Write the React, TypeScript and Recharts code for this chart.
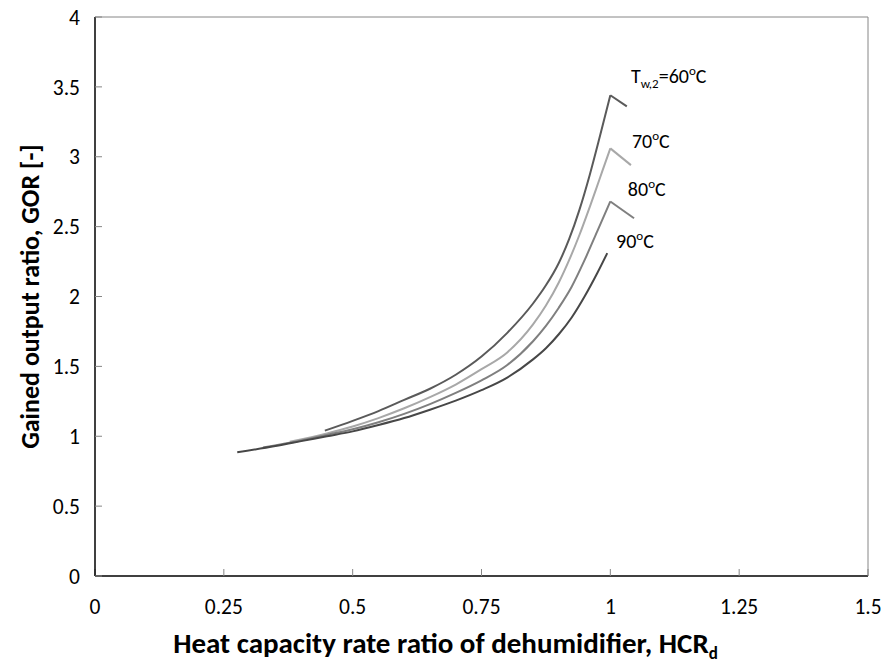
import React from 'react';
import { LineChart, Line, XAxis, YAxis, ReferenceLine, ReferenceDot, Label } from 'recharts';

// HCR_d (x) and GOR (y) per water temperature curve
const hcr60 = [0.446, 0.5, 0.55, 0.6, 0.65, 0.7, 0.75, 0.8, 0.85, 0.875, 0.9, 0.92, 0.94, 0.96, 0.98, 1.0, 1.032];
const gor60 = [1.04, 1.11, 1.18, 1.26, 1.34, 1.44, 1.57, 1.74, 1.95, 2.08, 2.24, 2.41, 2.62, 2.87, 3.15, 3.44, 3.36];

const hcr70 = [0.378, 0.45, 0.5, 0.55, 0.6, 0.65, 0.7, 0.75, 0.8, 0.85, 0.875, 0.9, 0.92, 0.94, 0.96, 0.98, 1.0, 1.04];
const gor70 = [0.96, 1.02, 1.07, 1.13, 1.2, 1.28, 1.37, 1.48, 1.6, 1.8, 1.935, 2.1, 2.26, 2.44, 2.64, 2.85, 3.06, 2.94];

const hcr80 = [0.326, 0.4, 0.45, 0.5, 0.55, 0.6, 0.65, 0.7, 0.75, 0.8, 0.85, 0.875, 0.9, 0.925, 0.95, 0.975, 1.0, 1.046];
const gor80 = [0.92, 0.97, 1.01, 1.05, 1.1, 1.16, 1.23, 1.31, 1.4, 1.51, 1.68, 1.79, 1.92, 2.07, 2.26, 2.47, 2.68, 2.56];

const hcr90 = [0.276, 0.35, 0.4, 0.45, 0.5, 0.55, 0.6, 0.65, 0.7, 0.75, 0.8, 0.85, 0.875, 0.9, 0.925, 0.95, 0.975, 0.994];
const gor90 = [0.885, 0.93, 0.965, 1.0, 1.035, 1.08, 1.13, 1.19, 1.255, 1.33, 1.42, 1.55, 1.63, 1.73, 1.85, 2.0, 2.17, 2.31];

const temps = ['60', '70', '80', '90'];
const colors = ['#5a5a5a', '#a8a8a8', '#7f7f7f', '#474747'];
// where each temperature label starts (data coords)
const labelX = [1.04, 1.042, 1.034, 1.011];
const labelY = [3.53, 3.065, 2.72, 2.345];

const xTicks = [0, 0.25, 0.5, 0.75, 1, 1.25, 1.5];
const yTicks = [0, 0.5, 1, 1.5, 2, 2.5, 3, 3.5, 4];

const FONT = 'Carlito, Calibri, Lato, sans-serif';

const toPoints = (xs: number[], ys: number[]) => xs.map((x, i) => ({ x, y: ys[i] }));
const series = [
  toPoints(hcr60, gor60),
  toPoints(hcr70, gor70),
  toPoints(hcr80, gor80),
  toPoints(hcr90, gor90),
];

// split at the peak so the rising part can be smooth and the peak stays sharp
const splitAtPeak = (pts: { x: number; y: number }[]) => {
  let k = 0;
  pts.forEach((p, i) => { if (p.y > pts[k].y) k = i; });
  return { rise: pts.slice(0, k + 1), tail: pts.slice(k) };
};
const parts = series.map(splitAtPeak);

function TempLabel(props: any) {
  const { viewBox, idx } = props;
  const x = viewBox.x + viewBox.width / 2;
  const y = viewBox.y + viewBox.height / 2;
  const head =
    idx === 0
      ? [
          <tspan key="t">T</tspan>,
          <tspan key="s" fontSize={13} dy={5}>w,2</tspan>,
          <tspan key="e" dy={-5}>=</tspan>,
        ]
      : [];
  return (
    <text x={x} y={y} textAnchor="start" fontFamily={FONT} fontSize={20} fill="#000">
      {head}
      <tspan>{temps[idx]}</tspan>
      <tspan fontSize={13} dy={-8}>o</tspan>
      <tspan dy={8}>C</tspan>
    </text>
  );
}

function XTitle(props: any) {
  const { viewBox } = props;
  const cx = viewBox.x + viewBox.width / 2 - 36;
  return (
    <text x={cx} y={653} textAnchor="middle" fontFamily={FONT} fontSize={29} fontWeight="bold" fill="#000">
      <tspan>Heat capacity rate ratio of dehumidifier, HCR</tspan>
      <tspan fontSize={17} dy={6}>d</tspan>
    </text>
  );
}

function YTitle(props: any) {
  const { viewBox } = props;
  const cy = viewBox.y + viewBox.height / 2;
  return (
    <text
      x={30}
      y={cy}
      textAnchor="middle"
      dominantBaseline="central"
      transform={`rotate(-90, 30, ${cy})`}
      fontFamily={FONT}
      fontSize={26}
      fontWeight="bold"
      fill="#000"
    >
      Gained output ratio, GOR [-]
    </text>
  );
}

export default function App() {
  return (
    <div style={{ position: 'absolute', left: 0, top: 0, width: 884, height: 664, background: '#fff' }}>
      <LineChart width={884} height={664} margin={{ top: 17, right: 16, bottom: 0, left: 0 }}>
        <XAxis
          type="number"
          dataKey="x"
          domain={[0, 1.5]}
          ticks={xTicks}
          height={88}
          axisLine={{ stroke: '#000', strokeWidth: 1.5 }}
          tickLine={{ stroke: '#868686' }}
          tickSize={-7}
          tickMargin={30}
          tick={{ fill: '#000', fontSize: 21.5, fontFamily: FONT }}
        >
          <Label content={<XTitle />} />
        </XAxis>
        <YAxis
          type="number"
          dataKey="y"
          domain={[0, 4]}
          ticks={yTicks}
          width={95}
          axisLine={{ stroke: '#000', strokeWidth: 1.5 }}
          tickLine={{ stroke: '#868686' }}
          tickSize={-7}
          tickMargin={22}
          tick={{ fill: '#000', fontSize: 21.5, fontFamily: FONT }}
        >
          <Label content={<YTitle />} />
        </YAxis>
        <ReferenceLine y={4} stroke="#868686" />
        <ReferenceLine x={1.5} stroke="#868686" />
        {parts.map((p, i) => (
          <Line
            key={'rise' + temps[i]}
            data={p.rise}
            dataKey="y"
            type="monotone"
            stroke={colors[i]}
            strokeWidth={2}
            dot={false}
            isAnimationActive={false}
          />
        ))}
        {parts.map((p, i) =>
          p.tail.length > 1 ? (
            <Line
              key={'tail' + temps[i]}
              data={p.tail}
              dataKey="y"
              type="linear"
              stroke={colors[i]}
              strokeWidth={2}
              dot={false}
              isAnimationActive={false}
            />
          ) : null
        )}
        {temps.map((t, i) => (
          <ReferenceDot
            key={'lbl' + t}
            x={labelX[i]}
            y={labelY[i]}
            r={1}
            fill="none"
            stroke="none"
            label={<TempLabel idx={i} />}
          />
        ))}
      </LineChart>
    </div>
  );
}
